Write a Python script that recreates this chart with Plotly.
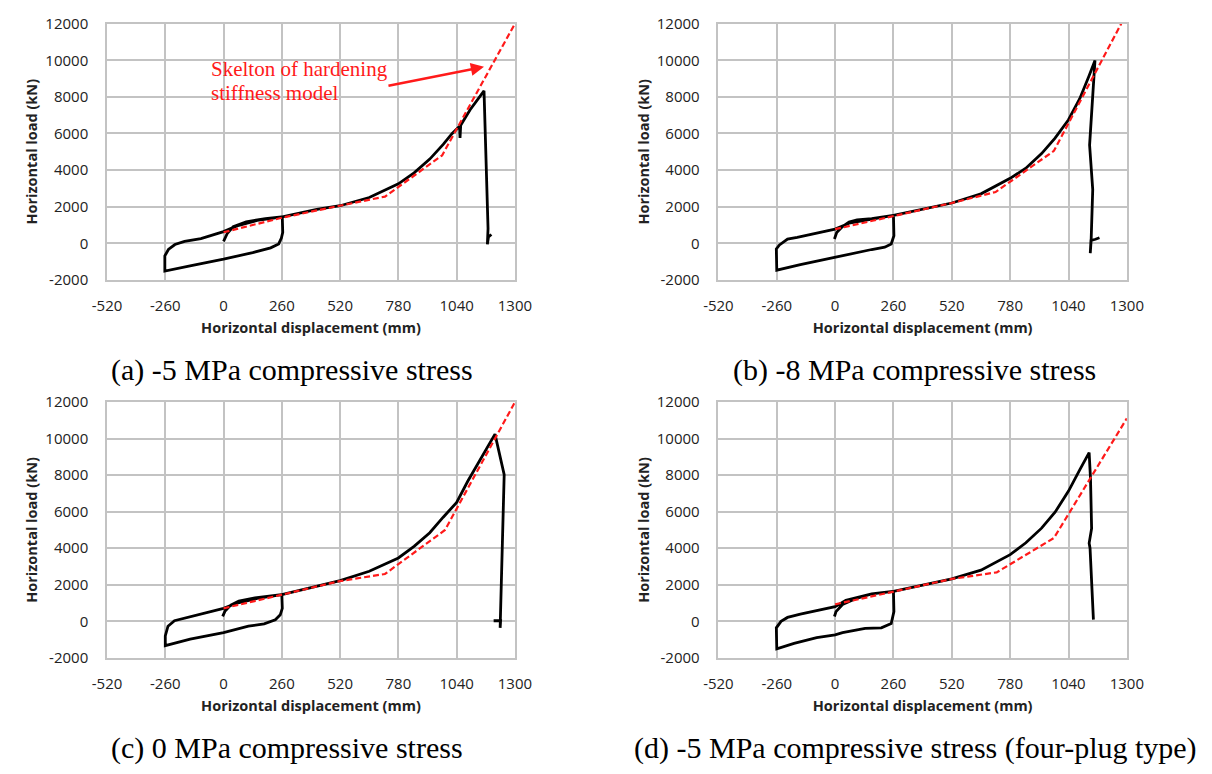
import plotly.graph_objects as go

# ---------------- data ----------------
X_TICKS = [-520, -260, 0, 260, 520, 780, 1040, 1300]
Y_TICKS = [-2000, 0, 2000, 4000, 6000, 8000, 10000, 12000]

CAPTIONS = [
    "(a) -5 MPa compressive stress",
    "(b) -8 MPa compressive stress",
    "(c) 0 MPa compressive stress",
    "(d) -5 MPa compressive stress (four-plug type)",
]
X_TITLE = "Horizontal displacement (mm)"
Y_TITLE = "Horizontal load (kN)"
NOTE_LINES = ["Skelton of hardening", "stiffness model"]

# (a) -5 MPa
a_disp = [0, 17, 43, 101, 187, 262,
          264, 258, 246, 210, 130, 0, -144, -262,
          -262, -246, -217, -174, -101, 0, 60, 150, 262,
          416, 520, 650, 780, 850, 920, 980, 1020, 1053, 1055, 1058, 1100, 1162,
          1180, 1177, 1182, 1195]
a_load = [100, 550, 900, 1170, 1350, 1440,
          600, 283, -35, -250, -510, -870, -1220, -1520,
          -690, -340, -70, 106, 250, 637, 950, 1250, 1440,
          1850, 2050, 2500, 3250, 3850, 4600, 5400, 6000, 6400, 5750, 6450, 7300, 8330,
          800, -55, 350, 480]
a_skel_disp = [0, 262, 518, 720, 975, 1300]
a_skel_load = [600, 1400, 2050, 2550, 4800, 12000]

# (b) -8 MPa
b_disp = [-3, 7, 33, 62, 98, 163, 260,
          262, 250, 221, 163, 0, -155, -260,
          -262, -248, -212, -169, -97, 0, 62, 163, 260,
          520, 650, 780, 850, 920, 980, 1040, 1090, 1130, 1158,
          1134, 1148, 1141, 1137, 1140, 1160, 1178]
b_load = [233, 592, 915, 1166, 1273, 1345, 1525,
          413, -36, -215, -341, -760, -1166, -1471,
          -305, -90, 233, 323, 502, 771, 1094, 1320, 1525,
          2200, 2700, 3550, 4100, 4900, 5750, 6750, 7900, 9100, 9990,
          5364, 2930, 200, -540, 150, 220, 300]
b_skel_disp = [0, 262, 520, 715, 975, 1275]
b_skel_load = [770, 1480, 2200, 2800, 5050, 12000]

# (c) 0 MPa
c_disp = [-4, 7, 32, 68, 140, 260,
          262, 253, 231, 181, 111, 0, -149, -260,
          -260, -248, -219, -162, -76, 0, 60, 150, 260,
          520, 650, 780, 850, 920, 980, 1040, 1090, 1140, 1180, 1211,
          1252, 1238, 1234, 1236, 1205]
c_load = [267, 569, 889, 1102, 1280, 1458,
          711, 356, 89, -142, -267, -622, -978, -1333,
          -800, -267, 36, 213, 444, 711, 1000, 1250, 1458,
          2230, 2740, 3470, 4100, 4850, 5700, 6510, 7680, 8750, 9650, 10250,
          8025, 30, -356, 40, 30]
c_skel_disp = [0, 260, 518, 720, 988, 1300]
c_skel_load = [710, 1460, 2200, 2590, 5000, 12000]

# (d) -5 MPa, four-plug type
d_disp = [-3, 4, 33, 91, 163, 260,
          262, 250, 206, 134, 33, 0, -82, -183, -260,
          -262, -241, -212, -155, -97, 0, 48, 163, 260,
          520, 650, 780, 850, 920, 980, 1040, 1090, 1132,
          1138, 1143, 1132, 1136, 1151]
d_load = [265, 531, 920, 1239, 1504, 1640,
          531, -124, -356, -391, -622, -747, -889, -1209, -1511,
          -356, 0, 213, 391, 533, 800, 1156, 1504, 1640,
          2320, 2800, 3650, 4300, 5100, 5970, 7130, 8290, 9236,
          7824, 5081, 4280, 4000, 89]
d_skel_disp = [0, 262, 520, 720, 975, 1300]
d_skel_load = [930, 1610, 2320, 2680, 4560, 11110]

# ---------------- layout helpers ----------------
W, H = 1212, 774


def fx(p):
    return p / W


def fy(p):
    return 1 - p / H


# plot boxes in pixels: left, right, top, bottom
BOXES = [(94.5, 513.5, 13, 276), (722.5, 1142, 13, 276),
         (94.5, 513.5, 401.5, 664), (722.5, 1142, 401.5, 664)]
CAP_POS = [(284, 369), (924, 369), (279, 757), (925, 757)]

panels = [
    (a_disp, a_load, a_skel_disp, a_skel_load),
    (b_disp, b_load, b_skel_disp, b_skel_load),
    (c_disp, c_load, c_skel_disp, c_skel_load),
    (d_disp, d_load, d_skel_disp, d_skel_load),
]

GRID = "#c3c3c3"
RED = "#ff1a1a"
TICK_FONT = dict(family="Open Sans", size=15, color="#222222")
TITLE_FONT = dict(family="Open Sans", size=14.5, color="#222222", weight="bold")

fig = go.Figure()
layout = dict(
    width=W, height=H,
    margin=dict(l=0, r=0, t=0, b=0),
    paper_bgcolor="white", plot_bgcolor="white",
    showlegend=False,
    annotations=[],
)

for i, (dx, dy, sx, sy) in enumerate(panels):
    n = "" if i == 0 else str(i + 1)
    xa, ya = "x" + n, "y" + n
    fig.add_trace(go.Scatter(x=dx, y=dy, mode="lines", xaxis=xa, yaxis=ya,
                             line=dict(color="black", width=2.8),
                             hoverinfo="skip"))
    fig.add_trace(go.Scatter(x=sx, y=sy, mode="lines", xaxis=xa, yaxis=ya,
                             line=dict(color=RED, width=2.2, dash="6px,3px"),
                             hoverinfo="skip"))
    l, r, t, b = BOXES[i]
    common = dict(showgrid=True, gridcolor=GRID, gridwidth=1.5, zeroline=False,
                  showline=True, linecolor=GRID, linewidth=1.5, mirror=True,
                  ticks="", tickfont=TICK_FONT)
    layout["xaxis" + n] = dict(
        common, domain=[fx(l), fx(r)], anchor=ya, range=[-520, 1300],
        tickmode="array", tickvals=X_TICKS, ticktext=[str(v) for v in X_TICKS],
        ticklabelstandoff=11,
        title=dict(text=X_TITLE, font=TITLE_FONT, standoff=9))
    layout["yaxis" + n] = dict(
        common, domain=[fy(b), fy(t)], anchor=xa, range=[-2000, 12000],
        tickmode="array", tickvals=Y_TICKS, ticktext=[str(v) for v in Y_TICKS],
        ticklabelstandoff=14,
        title=dict(text=Y_TITLE, font=TITLE_FONT, standoff=4))
    cx, cy = CAP_POS[i]
    layout["annotations"].append(dict(
        text=CAPTIONS[i], xref="paper", yref="paper", x=fx(cx), y=fy(cy),
        xanchor="center", yanchor="middle", showarrow=False,
        font=dict(family="Liberation Serif", size=30, color="black")))

# red note in panel (a)
for txt, py in zip(NOTE_LINES, [60, 84]):
    layout["annotations"].append(dict(
        text=txt, xref="paper", yref="paper", x=fx(199), y=fy(py),
        xanchor="left", yanchor="middle", showarrow=False,
        font=dict(family="Liberation Serif", size=21, color=RED)))
layout["annotations"].append(dict(
    text="", xref="x", yref="y", x=1162, y=9642, axref="x", ayref="y",
    ax=729, ay=8593, showarrow=True, arrowhead=2, arrowsize=1.1,
    arrowwidth=2.4, arrowcolor=RED))

fig.update_layout(**layout)
fig.write_html("out.html")
